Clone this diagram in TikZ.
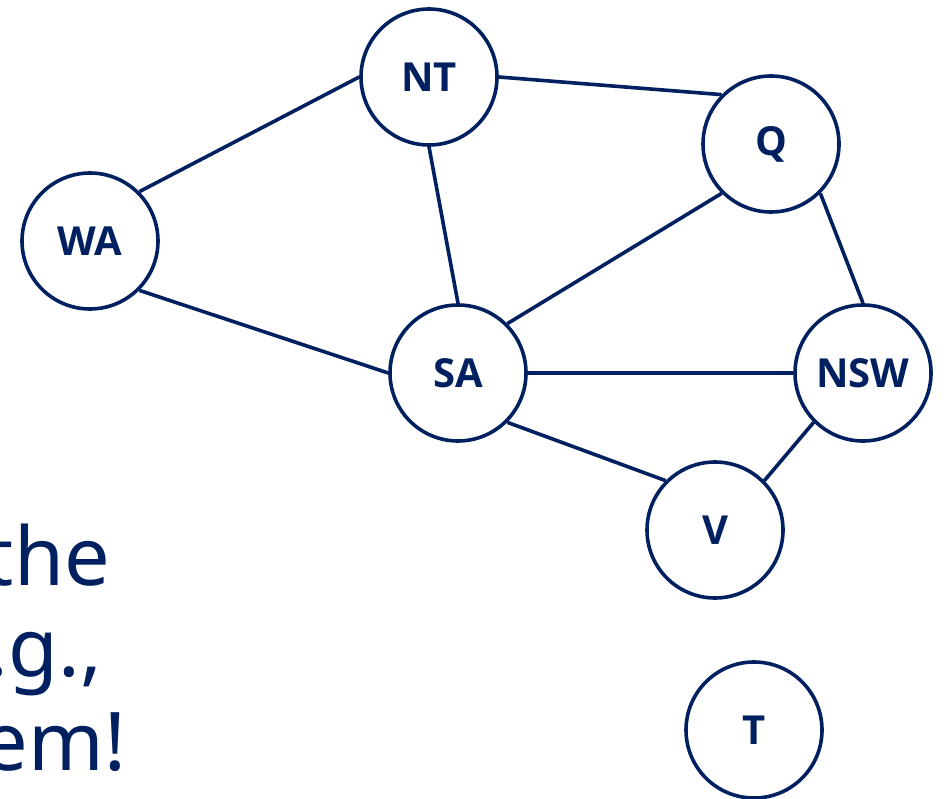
\documentclass[tikz,border=0pt]{standalone}
\usepackage{fontspec}
\setmainfont{Noto Sans}
\newfontfamily\labelfont{Open Sans}
\definecolor{navy}{RGB}{0,32,96}
\tikzset{
  state/.style={circle, draw=navy, line width=3.6pt, minimum size=136pt, inner sep=0pt,
    text=navy, font=\labelfont\bfseries\fontsize{40}{44}\selectfont},
  link/.style={draw=navy, line width=3.6pt},
  bigtext/.style={anchor=base east, inner sep=0pt, text=navy,
    font=\fontsize{81}{90}\selectfont}
}
\begin{document}
\begin{tikzpicture}[x=1pt, y=-1pt]
  \useasboundingbox (0,0) rectangle (944,799);
  \begin{scope}
    \clip (0,0) rectangle (944,799);
    % partial slide text at the left edge
    \node[bigtext] (l1) at (110,585) {the};
    \node[bigtext] (l2) at (102,676) {.g.,};
    \node[bigtext] (l3) at (126,770) {em!};
  \end{scope}
  % regions of the map
  \node[state] (NT)  at (429,77)  {NT};
  \node[state] (Q)   at (771,144) {Q};
  \node[state] (WA)  at (90,241)  {WA};
  \node[state] (SA)  at (458,373) {SA};
  \node[state] (NSW) at (863,373) {NSW};
  \node[state] (V)   at (715,530) {V};
  \node[state] (T)   at (754,730) {T};
  % borders between neighbouring regions
  \draw[link] (WA.north east) -- (NT.west);
  \draw[link] (WA.south east) -- (SA.west);
  \draw[link] (NT.south) -- (SA.north);
  \draw[link] (NT.east) -- (Q.north west);
  \draw[link] (SA.north east) -- (Q.south west);
  \draw[link] (Q.south east) -- (NSW.north);
  \draw[link] (SA.east) -- (NSW.west);
  \draw[link] (SA.south east) -- (V.north west);
  \draw[link] (NSW.south west) -- (V.north east);
\end{tikzpicture}
\end{document}
